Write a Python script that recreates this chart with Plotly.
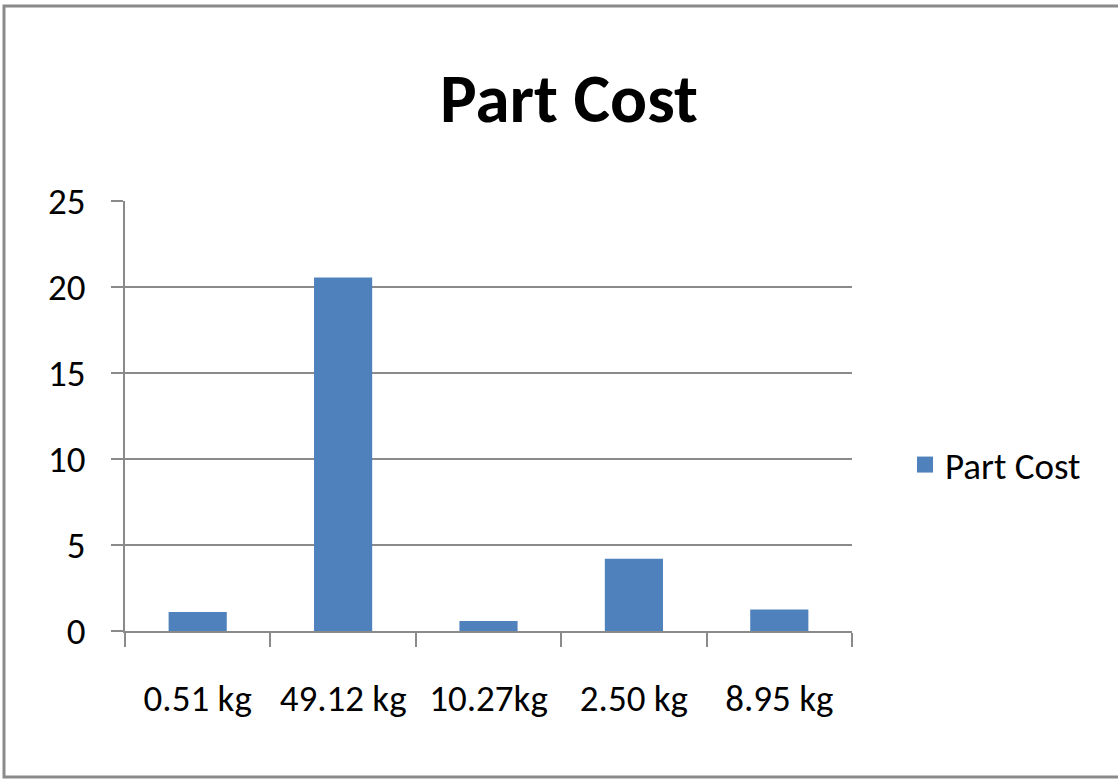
import plotly.graph_objects as go

# Part cost per component mass
categories = ["0.51 kg", "49.12 kg", "10.27kg", "2.50 kg", "8.95 kg"]
part_cost = [1.1, 20.55, 0.58, 4.2, 1.25]
y_ticks = [0, 5, 10, 15, 20, 25]

FONT = "Liberation Sans Narrow, Carlito, Lato, sans-serif"
GRID = "#8a8a8a"
BAR = "#4F81BD"

W, H = 1118, 779
L, R, T, B = 125, 852, 201, 631  # plot-area edges in pixels


def px_x(p):
    return (p - L) / (R - L)


def px_y(p):
    return (B - p) / (B - T)


fig = go.Figure()
fig.add_trace(
    go.Bar(
        x=categories,
        y=part_cost,
        name="Part Cost",
        marker=dict(color=BAR, line=dict(width=0)),
        showlegend=False,
    )
)
# legend key with a larger square swatch
fig.add_trace(
    go.Scatter(
        x=[None],
        y=[None],
        mode="markers",
        name="Part Cost",
        marker=dict(symbol="square", size=20, color=BAR),
        showlegend=True,
    )
)

fig.update_layout(
    width=W,
    height=H,
    paper_bgcolor="white",
    plot_bgcolor="white",
    margin=dict(l=L, r=W - R, t=T, b=H - B, autoexpand=False),
    bargap=0.6,
    font=dict(family=FONT, color="black", size=37),
    title=dict(
        text="<b>Part Cost</b>",
        x=569 / W,
        xanchor="center",
        y=1 - 98 / H,
        yanchor="middle",
        font=dict(family=FONT, size=69, color="black"),
    ),
    legend=dict(
        x=px_x(905),
        y=px_y(465),
        xanchor="left",
        yanchor="middle",
        font=dict(family=FONT, size=37),
        bgcolor="rgba(0,0,0,0)",
        itemwidth=30,
    ),
    shapes=[
        dict(
            type="rect",
            xref="paper",
            yref="paper",
            x0=px_x(4),
            x1=px_x(1130),
            y0=px_y(777),
            y1=px_y(6),
            line=dict(color="#8a8a8a", width=3),
            fillcolor="rgba(0,0,0,0)",
            layer="below",
        )
    ],
)

fig.update_xaxes(
    type="category",
    showline=True,
    linecolor=GRID,
    linewidth=2,
    ticks="outside",
    tickson="boundaries",
    ticklen=14,
    tickwidth=2,
    tickcolor=GRID,
    showgrid=False,
    ticklabelstandoff=34,
    tickfont=dict(family=FONT, size=37),
)

fig.update_yaxes(
    range=[0, 25],
    tickvals=y_ticks,
    showline=True,
    linecolor=GRID,
    linewidth=2,
    ticks="outside",
    ticklen=12,
    tickwidth=2,
    tickcolor=GRID,
    showgrid=True,
    gridcolor=GRID,
    gridwidth=2,
    zeroline=False,
    ticklabelstandoff=18,
    tickfont=dict(family=FONT, size=37),
)

fig.write_html("out.html")
